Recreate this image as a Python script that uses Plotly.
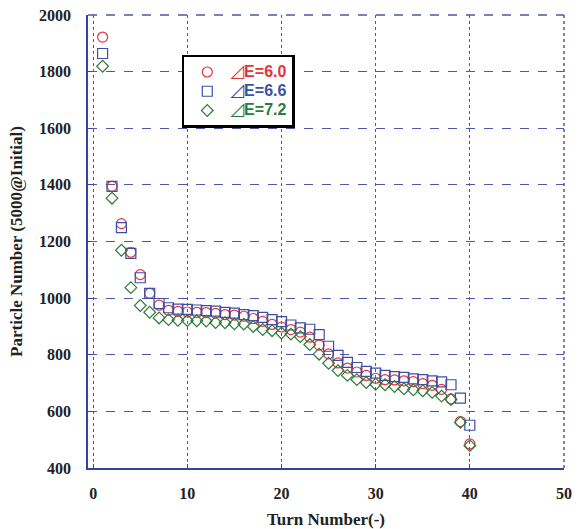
import plotly.graph_objects as go

turns = list(range(1, 41))

e60 = [1922, 1395, 1263, 1162, 1083, 1017, 975, 957, 953, 951,
       950, 949, 946, 942, 940, 936, 928, 918, 907, 898,
       889, 880, 862, 834, 803, 771, 753, 739, 727, 717,
       712, 711, 708, 705, 698, 692, 678, 644, 564, 485]

e66 = [1864, 1395, 1249, 1158, 1072, 1017, 981, 966, 961, 960,
       958, 956, 954, 950, 947, 942, 938, 932, 924, 917,
       905, 895, 890, 871, 830, 798, 773, 755, 741, 735,
       727, 723, 720, 715, 712, 708, 704, 694, 647, 551]

e72 = [1819, 1353, 1169, 1037, 974, 950, 930, 924, 922, 921,
       920, 919, 914, 913, 909, 908, 900, 889, 885, 877,
       873, 864, 836, 802, 770, 744, 727, 712, 702, 696,
       694, 688, 680, 676, 673, 667, 654, 642, 561, 479]

labels = ["E=6.0", "E=6.6", "E=7.2"]
colors = ["#e8323a", "#3d4fa3", "#2f7a3c"]
symbols = ["circle-open", "square-open", "diamond-open"]
sizes = [10, 10, 9]

x_ticks = [0, 10, 20, 30, 40, 50]
y_ticks = [400, 600, 800, 1000, 1200, 1400, 1600, 1800, 2000]

fig = go.Figure()
for ys, lab, col, sym, sz in zip([e60, e66, e72], labels, colors, symbols, sizes):
    fig.add_trace(go.Scatter(
        x=turns, y=ys, mode="markers",
        name=(f'<span style="color:{col};font-family:DejaVu Sans;font-size:18px">◿</span>'
              f'<span style="color:{col};font-size:16px"><b>{lab}</b></span>'),
        marker=dict(symbol=sym, size=sz, color=col, line=dict(width=1.2, color=col)),
    ))

axis_col = "#3344a0"
grid_col = "#4a5aa8"
tick_font = dict(family="Liberation Serif", size=16, color="#222222")
title_font = dict(family="Liberation Serif", size=17, color="#222222")

fig.update_layout(
    width=578, height=529,
    margin=dict(l=88, r=14, t=15, b=61),
    paper_bgcolor="white", plot_bgcolor="white",
    showlegend=True,
    legend=dict(
        x=0.197, y=0.912, xanchor="left", yanchor="top",
        bgcolor="white", bordercolor="black", borderwidth=2.5,
        font=dict(family="Liberation Sans", size=12.5),
        itemwidth=36, tracegroupgap=0,
    ),
    xaxis=dict(
        range=[-0.55, 50], tickvals=x_ticks, ticktext=[f"<b>{v}</b>" for v in x_ticks],
        showline=True, linecolor=axis_col, linewidth=1.5,
        showgrid=True, gridcolor=grid_col, griddash="dot", gridwidth=1.2,
        zeroline=False, ticks="inside", ticklen=4, tickcolor=axis_col,
        tickfont=tick_font, ticklabelstandoff=10, automargin=False,
        title=dict(text="<b>Turn Number(-)</b>", font=title_font, standoff=16),
    ),
    yaxis=dict(
        range=[400, 2000], tickvals=y_ticks, ticktext=[f"<b>{v}</b>" for v in y_ticks],
        showline=True, linecolor=axis_col, linewidth=1.5,
        showgrid=True, gridcolor=grid_col, griddash="dash", gridwidth=1.2,
        zeroline=False, ticks="inside", ticklen=4, tickcolor=axis_col,
        tickfont=tick_font, ticklabelstandoff=12, automargin=False,
        title=dict(text="<b>Particle Number (5000@Initial)</b>", font=title_font, standoff=12),
    ),
)

fig.add_shape(type="line", xref="paper", yref="paper", x0=0, x1=1, y0=1, y1=1,
              line=dict(color=grid_col, width=1.5, dash="dash"))
fig.add_shape(type="line", xref="paper", yref="paper", x0=1, x1=1, y0=0, y1=1,
              line=dict(color=grid_col, width=1.5, dash="dot"))

fig.write_html("out.html", config={"displayModeBar": False},
               post_script="document.body.style.margin='0';document.body.style.padding='0';")
